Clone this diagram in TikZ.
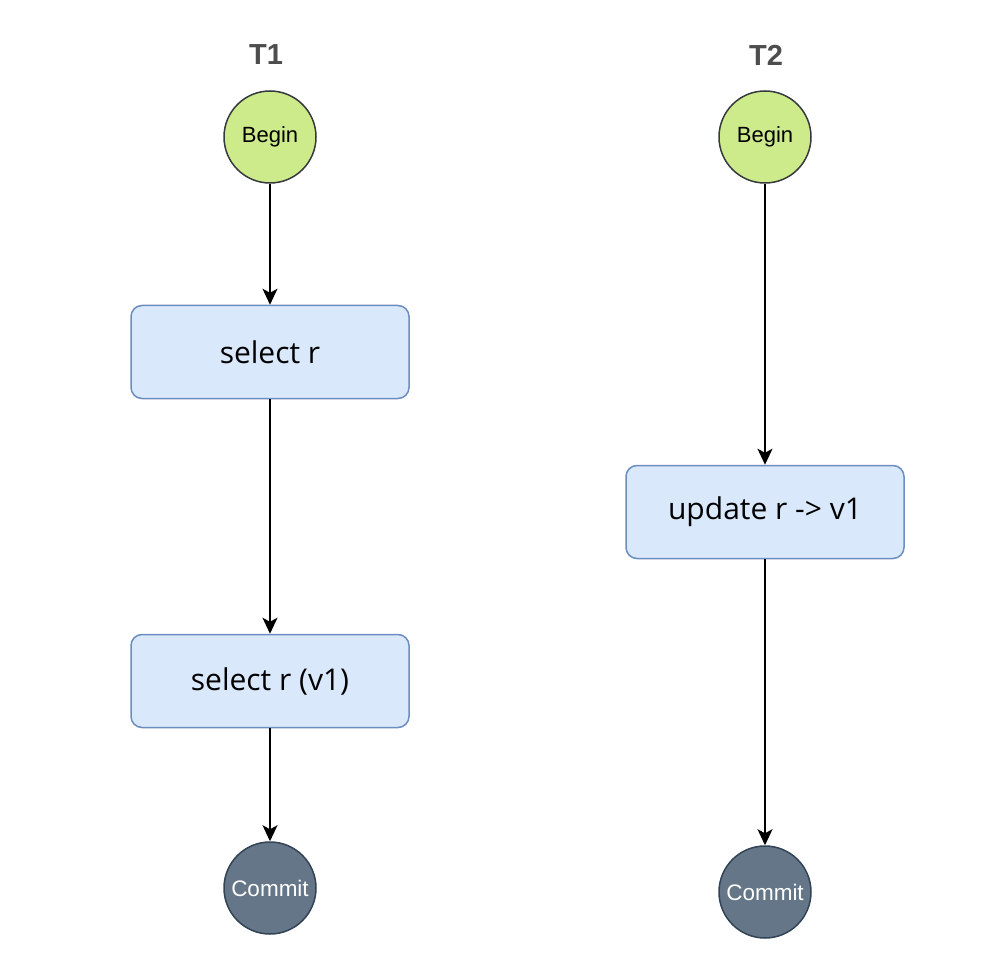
\documentclass[tikz,border=0pt]{standalone}
\usepackage{fontspec}
\setmainfont{Liberation Sans}
\newfontfamily\stepfont{Open Sans}
\usetikzlibrary{arrows.meta}
\definecolor{begfill}{HTML}{CDEB8B}
\definecolor{begline}{HTML}{36393D}
\definecolor{opfill}{HTML}{DAE8FC}
\definecolor{opline}{HTML}{6C8EBF}
\definecolor{endfill}{HTML}{647687}
\definecolor{endline}{HTML}{314354}
\definecolor{titlegray}{HTML}{4D4D4D}
\begin{document}
\begin{tikzpicture}[x=1pt, y=-1pt,
    begin/.style={circle, draw=begline, fill=begfill, line width=1.5pt,
        minimum size=92pt, inner sep=0pt, font=\fontsize{22}{26}\selectfont},
    commit/.style={circle, draw=endline, fill=endfill, line width=1.5pt,
        minimum size=92pt, inner sep=0pt, text=white, font=\fontsize{22.5}{26}\selectfont},
    op/.style={rectangle, rounded corners=11pt, draw=opline, fill=opfill, line width=1.5pt,
        minimum width=278pt, minimum height=93pt, font=\stepfont\fontsize{30}{35}\selectfont},
    title/.style={text=titlegray, font=\bfseries\fontsize{29}{34}\selectfont},
    flow/.style={-{Stealth[length=16pt, width=15pt, inset=4pt]}, line width=1.5pt}]
    \useasboundingbox (0,0) rectangle (993,965);
    % transaction T1
    \node[title] (t1) at (266,55) {T1};
    \node[begin] (b1) at (270,137) {Begin};
    \node[op] (s1) at (270,352) {select r};
    \node[op] (s2) at (270,681) {select r (v1)};
    \node[commit] (c1) at (270,888) {Commit};
    \draw[flow] (b1) -- (s1);
    \draw[flow] (s1) -- (s2);
    \draw[flow] (s2) -- (c1);
    % transaction T2
    \node[title] (t2) at (766,55) {T2};
    \node[begin] (b2) at (765,137) {Begin};
    \node[op] (u2) at (765,512) {update r -> v1};
    \node[commit] (c2) at (765,892) {Commit};
    \draw[flow] (b2) -- (u2);
    \draw[flow] (u2) -- (c2);
\end{tikzpicture}
\end{document}
